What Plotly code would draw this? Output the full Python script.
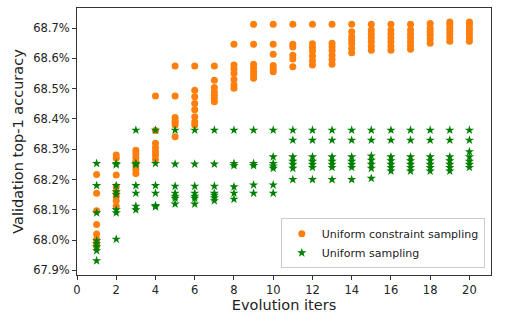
import plotly.graph_objects as go

iters = list(range(1, 21))

constraint_acc = [
    [68.217, 68.155, 68.097, 68.052, 68.020, 68.003, 67.990, 67.980],
    [68.281, 68.270, 68.215, 68.176, 68.160, 68.145, 68.130, 68.112],
    [68.297, 68.285, 68.273, 68.260, 68.245, 68.232, 68.220],
    [68.476, 68.362, 68.320, 68.305, 68.292, 68.280, 68.266],
    [68.575, 68.476, 68.405, 68.395, 68.388, 68.380, 68.341],
    [68.575, 68.495, 68.473, 68.451, 68.430, 68.407, 68.390, 68.380],
    [68.575, 68.528, 68.504, 68.490, 68.478, 68.467, 68.457],
    [68.646, 68.578, 68.565, 68.550, 68.530, 68.512, 68.501],
    [68.712, 68.646, 68.580, 68.568, 68.556, 68.545, 68.534],
    [68.712, 68.646, 68.613, 68.576, 68.565, 68.556],
    [68.712, 68.646, 68.637, 68.610, 68.598, 68.572],
    [68.712, 68.648, 68.636, 68.624, 68.608, 68.592, 68.578],
    [68.712, 68.650, 68.638, 68.626, 68.610, 68.596, 68.580],
    [68.712, 68.688, 68.671, 68.660, 68.648, 68.632, 68.618],
    [68.712, 68.693, 68.680, 68.668, 68.655, 68.640, 68.627],
    [68.712, 68.693, 68.680, 68.668, 68.655, 68.640, 68.627],
    [68.712, 68.693, 68.680, 68.668, 68.655, 68.642, 68.630],
    [68.715, 68.699, 68.688, 68.676, 68.664, 68.650],
    [68.720, 68.712, 68.700, 68.690, 68.680, 68.668, 68.656],
    [68.720, 68.712, 68.700, 68.690, 68.680, 68.668, 68.656],
]

uniform_acc = [
    [68.253, 68.180, 68.090, 67.998, 67.988, 67.978, 67.965, 67.932],
    [68.253, 68.249, 68.180, 68.160, 68.150, 68.100, 68.090, 68.003],
    [68.363, 68.253, 68.249, 68.180, 68.155, 68.112, 68.100],
    [68.363, 68.253, 68.180, 68.155, 68.114, 68.110],
    [68.363, 68.251, 68.178, 68.155, 68.145, 68.138, 68.119],
    [68.363, 68.251, 68.178, 68.155, 68.145, 68.138, 68.119],
    [68.363, 68.251, 68.178, 68.155, 68.148, 68.140, 68.130],
    [68.363, 68.253, 68.246, 68.176, 68.155, 68.135],
    [68.363, 68.253, 68.246, 68.182, 68.155],
    [68.363, 68.275, 68.253, 68.245, 68.237, 68.182, 68.155],
    [68.363, 68.330, 68.275, 68.260, 68.250, 68.237, 68.200],
    [68.363, 68.330, 68.275, 68.260, 68.250, 68.240, 68.200],
    [68.363, 68.330, 68.275, 68.260, 68.250, 68.240, 68.200],
    [68.363, 68.330, 68.275, 68.260, 68.250, 68.240, 68.200],
    [68.363, 68.330, 68.278, 68.264, 68.250, 68.237, 68.204],
    [68.363, 68.330, 68.275, 68.262, 68.250, 68.240, 68.228],
    [68.363, 68.330, 68.275, 68.262, 68.250, 68.240, 68.228],
    [68.363, 68.330, 68.275, 68.262, 68.250, 68.240, 68.228],
    [68.363, 68.330, 68.275, 68.262, 68.250, 68.240, 68.228],
    [68.363, 68.330, 68.292, 68.275, 68.260, 68.250, 68.240],
]

series_names = ["Uniform constraint sampling", "Uniform sampling"]
x_ticks = list(range(0, 21, 2))
y_ticks = [67.9, 68.0, 68.1, 68.2, 68.3, 68.4, 68.5, 68.6, 68.7]
y_tick_labels = ["67.9%", "68.0%", "68.1%", "68.2%", "68.3%", "68.4%",
                 "68.5%", "68.6%", "68.7%"]


def flatten(groups):
    xs, ys = [], []
    for it, vals in zip(iters, groups):
        for v in vals:
            xs.append(it)
            ys.append(v)
    return xs, ys


cx, cy = flatten(constraint_acc)
ux, uy = flatten(uniform_acc)

fig = go.Figure()
fig.add_trace(go.Scatter(
    x=cx, y=cy, mode="markers", name=series_names[0],
    marker=dict(symbol="circle", size=7, color="#ff7f0e"),
))
fig.add_trace(go.Scatter(
    x=ux, y=uy, mode="markers", name=series_names[1],
    marker=dict(symbol="star", size=7, color="#008000"),
))

axis_common = dict(
    showgrid=False, zeroline=False, showline=True, mirror=True,
    linecolor="#333", linewidth=1, ticks="outside", ticklen=4,
    tickwidth=1, tickcolor="#333",
    tickfont=dict(family="DejaVu Sans", size=11.5, color="#222"),
)

fig.update_layout(
    width=517, height=322,
    margin=dict(l=77, r=26, t=8, b=47),
    paper_bgcolor="white", plot_bgcolor="white",
    font=dict(family="DejaVu Sans", color="#222"),
    xaxis=dict(range=[0, 21.1], tickvals=x_ticks,
               title=dict(text="Evolution iters",
                          font=dict(family="DejaVu Sans", size=14.5), standoff=3),
               **axis_common),
    yaxis=dict(range=[67.885, 68.766], tickvals=y_ticks, ticktext=y_tick_labels,
               title=dict(text="Validation top-1 accuracy",
                          font=dict(family="DejaVu Sans", size=14.5), standoff=6),
               **axis_common),
    legend=dict(x=0.985, y=0.025, xanchor="right", yanchor="bottom",
                bgcolor="rgba(255,255,255,0.8)", bordercolor="#ccc",
                borderwidth=1, font=dict(family="DejaVu Sans", size=11, color="#222"),
                tracegroupgap=0, itemwidth=30),
    showlegend=True,
)

fig.write_html("out.html")
